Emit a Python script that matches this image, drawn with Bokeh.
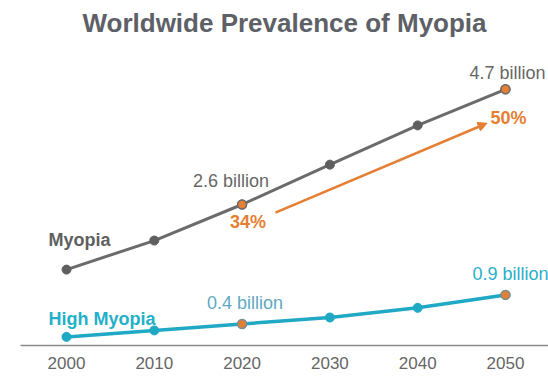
from bokeh.plotting import figure
from bokeh.models import Range1d, Arrow, NormalHead, ColumnDataSource, FixedTicker
from bokeh.core.properties import value
from bokeh.embed import file_html
from bokeh.resources import INLINE

years = [2000, 2010, 2020, 2030, 2040, 2050]
myopia = [1.41, 1.95, 2.62, 3.36, 4.09, 4.76]
high_myopia = [0.16, 0.28, 0.40, 0.52, 0.70, 0.94]
highlight_years = [2020, 2050]
myopia_labels = ["2.6 billion", "4.7 billion"]
high_labels = ["0.4 billion", "0.9 billion"]
pct_labels = ["34%", "50%"]

FONT = "Liberation Sans"
GRAY = "#666666"
DGRAY = "#5f5f5f"
TEAL = "#1fa9c4"
ORANGE = "#e57f34"

p = figure(width=548, height=376, output_backend="svg", toolbar_location=None,
           x_range=Range1d(1994.76, 2054.9), y_range=Range1d(0, 5.63),
           min_border_left=20, min_border_right=0, min_border_top=0, min_border_bottom=31)
p.title.text = "Worldwide Prevalence of Myopia"
p.title.align = "center"
p.title.text_font = FONT
p.title.text_font_size = "26px"
p.title.text_font_style = "bold"
p.title.text_color = "#5d6066"
p.outline_line_color = None
p.background_fill_color = "white"
p.border_fill_color = "white"
p.grid.visible = False
p.yaxis.visible = False
p.xaxis.ticker = FixedTicker(ticks=years)
p.xaxis.major_tick_line_color = None
p.xaxis.minor_tick_line_color = None
p.xaxis.axis_line_color = "#8a8a8a"
p.xaxis.axis_line_width = 1.5
p.xaxis.major_label_text_font = FONT
p.xaxis.major_label_text_font_size = "17px"
p.xaxis.major_label_text_color = GRAY
p.xaxis.major_label_standoff = 5

src_m = ColumnDataSource(dict(x=years, y=myopia))
src_h = ColumnDataSource(dict(x=years, y=high_myopia))
p.line("x", "y", source=src_m, line_color="#6b6b6b", line_width=3)
p.scatter("x", "y", source=src_m, size=9, fill_color=DGRAY, line_color=DGRAY)
p.line("x", "y", source=src_h, line_color=TEAL, line_width=3.5)
p.scatter("x", "y", source=src_h, size=9, fill_color=TEAL, line_color=TEAL)

hm = [myopia[years.index(y)] for y in highlight_years]
hh = [high_myopia[years.index(y)] for y in highlight_years]
p.scatter(highlight_years, hm, size=9, fill_color=ORANGE, line_color="#6b6b6b", line_width=1.5)
p.scatter(highlight_years, hh, size=9, fill_color=ORANGE, line_color="#7a8f95", line_width=1.5)

LS = "18px"
# value labels
p.text([highlight_years[0]], [hm[0]], text=[myopia_labels[0]], text_font=value(FONT),
       text_font_size=LS, text_color=GRAY, text_align="center", text_baseline="middle",
       x_offset=-11, y_offset=-23)
p.text([highlight_years[1]], [hm[1]], text=[myopia_labels[1]], text_font=value(FONT),
       text_font_size=LS, text_color=GRAY, text_align="center", text_baseline="middle",
       x_offset=2, y_offset=-16)
p.text([highlight_years[0]], [hh[0]], text=[high_labels[0]], text_font=value(FONT),
       text_font_size=LS, text_color="#5fa8c2", text_align="center", text_baseline="middle",
       x_offset=3, y_offset=-21)
p.text([highlight_years[1]], [hh[1]], text=[high_labels[1]], text_font=value(FONT),
       text_font_size=LS, text_color="#2aafc9", text_align="center", text_baseline="middle",
       x_offset=5, y_offset=-21)
p.text([highlight_years[0]], [hm[0]], text=[pct_labels[0]], text_font=value(FONT),
       text_font_size=LS, text_font_style="bold", text_color=ORANGE, text_align="center",
       text_baseline="middle", x_offset=6, y_offset=18)
p.text([highlight_years[1]], [hm[1]], text=[pct_labels[1]], text_font=value(FONT),
       text_font_size=LS, text_font_style="bold", text_color=ORANGE, text_align="center",
       text_baseline="middle", x_offset=3, y_offset=29)

# series names
p.text([1997.95], [1.96], text=["Myopia"], text_font=value(FONT), text_font_size=LS,
       text_font_style="bold", text_color="#5f5f5f", text_align="left", text_baseline="middle")
p.text([1997.95], [0.49], text=["High Myopia"], text_font=value(FONT), text_font_size=LS,
       text_font_style="bold", text_color="#1fb1c9", text_align="left", text_baseline="middle")

# growth arrow
p.add_layout(Arrow(x_start=2023.8, y_start=2.47, x_end=2047.9, y_end=4.13,
                   line_color=ORANGE, line_width=2.5,
                   end=NormalHead(size=9, fill_color=ORANGE, line_color=ORANGE)))

open("out.html", "w").write(file_html(p, INLINE))
